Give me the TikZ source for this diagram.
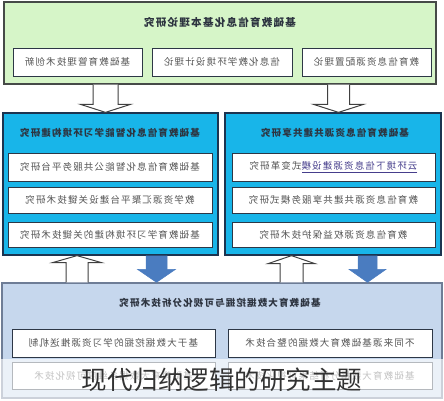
\documentclass[tikz,border=0pt]{standalone}
\usepackage{fontspec}
\newfontfamily\cjk{Noto Sans CJK SC}[LetterSpace=12]
\newfontfamily\cjkcap{Noto Sans CJK SC}
\usetikzlibrary{calc}

\definecolor{greenfill}{RGB}{214,245,200}
\definecolor{cyanfill}{RGB}{24,181,233}
\definecolor{bluegrey}{RGB}{198,215,237}
\definecolor{topline}{RGB}{70,74,72}
\definecolor{navyline}{RGB}{28,52,80}
\definecolor{greyline}{RGB}{110,125,150}
\definecolor{cellline}{RGB}{45,55,70}
\definecolor{cellgray}{RGB}{85,85,85}
\definecolor{ttlgray}{RGB}{45,52,64}
\definecolor{arrowblue}{RGB}{74,124,192}
\definecolor{linkcol}{RGB}{70,62,140}
\definecolor{capgray}{RGB}{50,50,50}

% block arrow: from, to, half shaft, half head, head offset, style
\newcommand{\blockarrow}[6]{%
\draw[#6] ($(#1)+(-#3,0)$) -- ($(#2)+(-#3,#5)$) -- ($(#2)+(-#4,#5)$) -- (#2)
  -- ($(#2)+(#4,#5)$) -- ($(#2)+(#3,#5)$) -- ($(#1)+(#3,0)$);}

\begin{document}
\begin{tikzpicture}[x=1pt,y=-1pt,
  panel/.style={draw=#1,line width=1.3pt,inner sep=0pt},
  cell/.style={draw=cellline,fill=white,line width=1pt,minimum height=27,inner sep=0pt,
    font=\cjk\fontsize{9.5}{10}\selectfont,text=cellgray,xscale=-1},
  ttl/.style={font=\cjk\bfseries\fontsize{9.5}{10}\selectfont,text=ttlgray,xscale=-1},
  hollow/.style={draw=black!75,fill=white,line width=1pt,line join=miter},
  bluearr/.style={draw=arrowblue,fill=arrowblue,line width=0.5pt}]

\useasboundingbox (0,0) rectangle (444,400);

% theory
\node[panel=topline,fill=greenfill,minimum width=432,minimum height=82] (top) at (220,43) {};
\node[ttl,font=\cjk\bfseries\fontsize{10.5}{11}\selectfont] (toptitle) at (220,22) {基础教育信息化基本理论研究};
\node[cell,minimum width=129,minimum height=28] (t1) at (77.5,62) {基础教育管理技术创新};
\node[cell,minimum width=140,minimum height=28] (t2) at (222,62) {信息化教学环境设计理论};
\node[cell,minimum width=129,minimum height=28] (t3) at (366.5,62) {教育信息资源配置理论};

% learning environment
\node[panel=navyline,fill=cyanfill,minimum width=215,minimum height=142] (blL) at (110.5,184) {};
\node[ttl] (ltitle) at (110,133) {基础教育信息化智能学习环境构建研究};
\node[cell,minimum width=204,minimum height=28] (l1) at (110,167) {基础教育信息化智能公共服务平台研究};
\node[cell,minimum width=204,minimum height=26] (l2) at (110,200) {教学资源汇聚平台建设关键技术研究};
\node[cell,minimum width=204,minimum height=25] (l3) at (110,234.5) {基础教育学习环境构建的关键技术研究};

% resources
\node[panel=navyline,fill=cyanfill,minimum width=216,minimum height=142] (blR) at (333,184) {};
\node[ttl] (rtitle) at (335,133) {基础教育信息资源共建共享研究};
\node[cell,minimum width=203,minimum height=28] (r1) at (333.5,167)
  {\textcolor{linkcol}{\underline{云环境下信息资源建设模}}式变革研究};
\node[cell,minimum width=203,minimum height=26] (r2) at (333.5,200) {教育信息资源共建共享服务模式研究};
\node[cell,minimum width=203,minimum height=25] (r3) at (333.5,234.5) {教育信息资源权益保护技术研究};

% big data
\node[panel=greyline,fill=bluegrey,minimum width=440,minimum height=115] (bot) at (222,340.5) {};
\node[ttl] (btitle) at (220,303) {基础教育大数据挖掘与可视化分析技术研究};
\node[cell,minimum width=203,minimum height=28] (b1) at (113.5,343) {基于大数据挖掘的学习资源推送机制};
\node[cell,minimum width=204,minimum height=28] (b2) at (330,343) {不同来源基础教育大数据的整合技术};
\node[cell,minimum width=203,minimum height=27] (b3) at (113.5,375.5) {基础教育大数据多维度可视化技术};
\node[cell,minimum width=204,minimum height=27] (b4) at (330,375.5) {基础教育大数据分析结果可视化技术};

% arrows
\coordinate (a1s) at (top.south -| 105.5,0);
\coordinate (a1e) at (blL.north -| 105.5,0);
\coordinate (a2s) at (top.south -| 338.5,0);
\coordinate (a2e) at (blR.north -| 338.5,0);
\coordinate (a3s) at (bot.north -| 77,0);
\coordinate (a3e) at (blL.south -| 77,0);
\coordinate (a4s) at (bot.north -| 291.5,0);
\coordinate (a4e) at (blR.south -| 291.5,0);
\coordinate (a5s) at (blL.south -| 156.5,0);
\coordinate (a5e) at (bot.north -| 156.5,0);
\coordinate (a6s) at (blR.south -| 367.5,0);
\coordinate (a6e) at (bot.north -| 367.5,0);

\blockarrow{a1s}{a1e}{12.5}{25}{-8}{hollow}
\blockarrow{a2s}{a2e}{11}{25}{-8}{hollow}
\blockarrow{a3s}{a3e}{11}{24.5}{7}{hollow}
\blockarrow{a4s}{a4e}{11.5}{23.5}{8}{hollow}
\blockarrow{a5s}{a5e}{10.5}{19}{-13}{bluearr}
\blockarrow{a6s}{a6e}{9.5}{18.5}{-13}{bluearr}

% caption band
\fill[white,opacity=0.65] (0,359) rectangle (444,400);
\node[font=\cjkcap\fontsize{25.5}{26}\selectfont,text=capgray] (cap) at (222,380) {现代归纳逻辑的研究主题};

\end{tikzpicture}
\end{document}
